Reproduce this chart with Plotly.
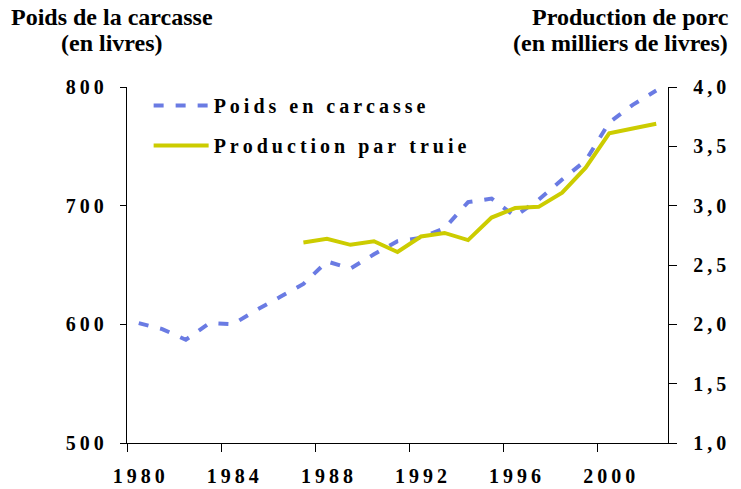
import plotly.graph_objects as go

years = list(range(1980, 2003))
poids = [601, 596, 587, 601, 600, 612, 623, 634, 653, 647, 659, 670, 673, 681,
         703, 706, 691, 705, 722, 738, 770, 785, 797]
prod_years = list(range(1987, 2003))
production = [2.69, 2.72, 2.67, 2.70, 2.61, 2.74, 2.77, 2.71, 2.90, 2.98, 2.99,
              3.11, 3.32, 3.61, 3.65, 3.69]

x_tick_vals = [1980, 1984, 1988, 1992, 1996, 2000]
x_boundaries = [1979.5, 1983.5, 1987.5, 1991.5, 1995.5, 1999.5]
left_ticks = [500, 600, 700, 800]
right_ticks = [1.0, 1.5, 2.0, 2.5, 3.0, 3.5, 4.0]

TS = "\u2009"  # thin space for letter spacing


def spaced(s):
    return TS.join(list(s))


def fr(v):
    return f"{v:.1f}".replace(".", ",")


FONT = "Liberation Serif"
BLUE = "#6A7BE3"
YELLOW = "#CCCC00"

fig = go.Figure()
fig.add_trace(go.Scatter(
    x=years, y=poids, name=spaced("Poids en carcasse"), mode="lines",
    line=dict(color=BLUE, width=4, dash="10px,12px"), yaxis="y",
    legendgroup="a"))
fig.add_trace(go.Scatter(
    x=prod_years, y=production, name=spaced("Production par truie"), mode="lines",
    line=dict(color=YELLOW, width=4), yaxis="y2", legendgroup="b"))

tickfont = dict(family=FONT, size=20, color="black", weight="bold")

fig.update_layout(
    width=741, height=489,
    margin=dict(l=127, r=73, t=87, b=46),
    paper_bgcolor="white", plot_bgcolor="white",
    showlegend=True,
    legend=dict(x=0.04, y=1.003, xanchor="left", yanchor="top",
                bgcolor="rgba(0,0,0,0)", borderwidth=0,
                font=dict(family=FONT, size=20, color="black", weight="bold"),
                itemwidth=55, traceorder="grouped", tracegroupgap=11),
    xaxis=dict(range=[1979.5, 2002.5], tickvals=x_tick_vals,
               ticktext=[spaced(str(v)) for v in x_tick_vals],
               ticks="", showline=True, linecolor="black", linewidth=1.3,
               showgrid=False, zeroline=False, tickfont=tickfont,
               ticklabelstandoff=15, automargin=False,
               minor=dict(tickvals=x_boundaries, ticks="outside", ticklen=8,
                          tickcolor="black", tickwidth=1.3, showgrid=False)),
    yaxis=dict(range=[500, 800], tickvals=left_ticks,
               ticktext=[spaced(str(v)) for v in left_ticks],
               ticks="outside", ticklen=6, tickcolor="black", tickwidth=1.3,
               showline=True, linecolor="black", linewidth=1.3,
               showgrid=False, zeroline=False, tickfont=tickfont,
               ticklabelstandoff=12, automargin=False),
    yaxis2=dict(range=[1, 4], tickvals=right_ticks,
                ticktext=[spaced(fr(v)) for v in right_ticks],
                overlaying="y", side="right", anchor="x",
                ticks="outside", ticklen=8, tickcolor="black", tickwidth=1.3,
                showline=True, linecolor="black", linewidth=1.3,
                showgrid=False, zeroline=False, tickfont=tickfont,
                ticklabelstandoff=12, automargin=False),
    yaxis3=dict(range=[1, 4], tickvals=right_ticks, overlaying="y",
                side="right", anchor="x", ticks="inside", ticklen=7,
                tickcolor="black", tickwidth=1.3, showline=False,
                showgrid=False, zeroline=False, showticklabels=False,
                automargin=False),
)

titlefont = dict(family=FONT, size=24, color="black", weight="bold")
annots = [
    ("Poids de la carcasse", 112, 17),
    ("(en livres)", 112, 43),
    ("Production de porc", 630, 17),
    ("(en milliers de livres)", 620, 43),
]
for text, px, py in annots:
    fig.add_annotation(text=text, xref="paper", yref="paper",
                       x=(px - 127) / 541, y=(443 - py) / 356,
                       xanchor="center", yanchor="middle", showarrow=False,
                       font=titlefont)

fig.write_html(
    "out.html",
    config={"displayModeBar": False},
    post_script="document.body.style.margin='0';document.body.style.overflow='hidden';",
)
